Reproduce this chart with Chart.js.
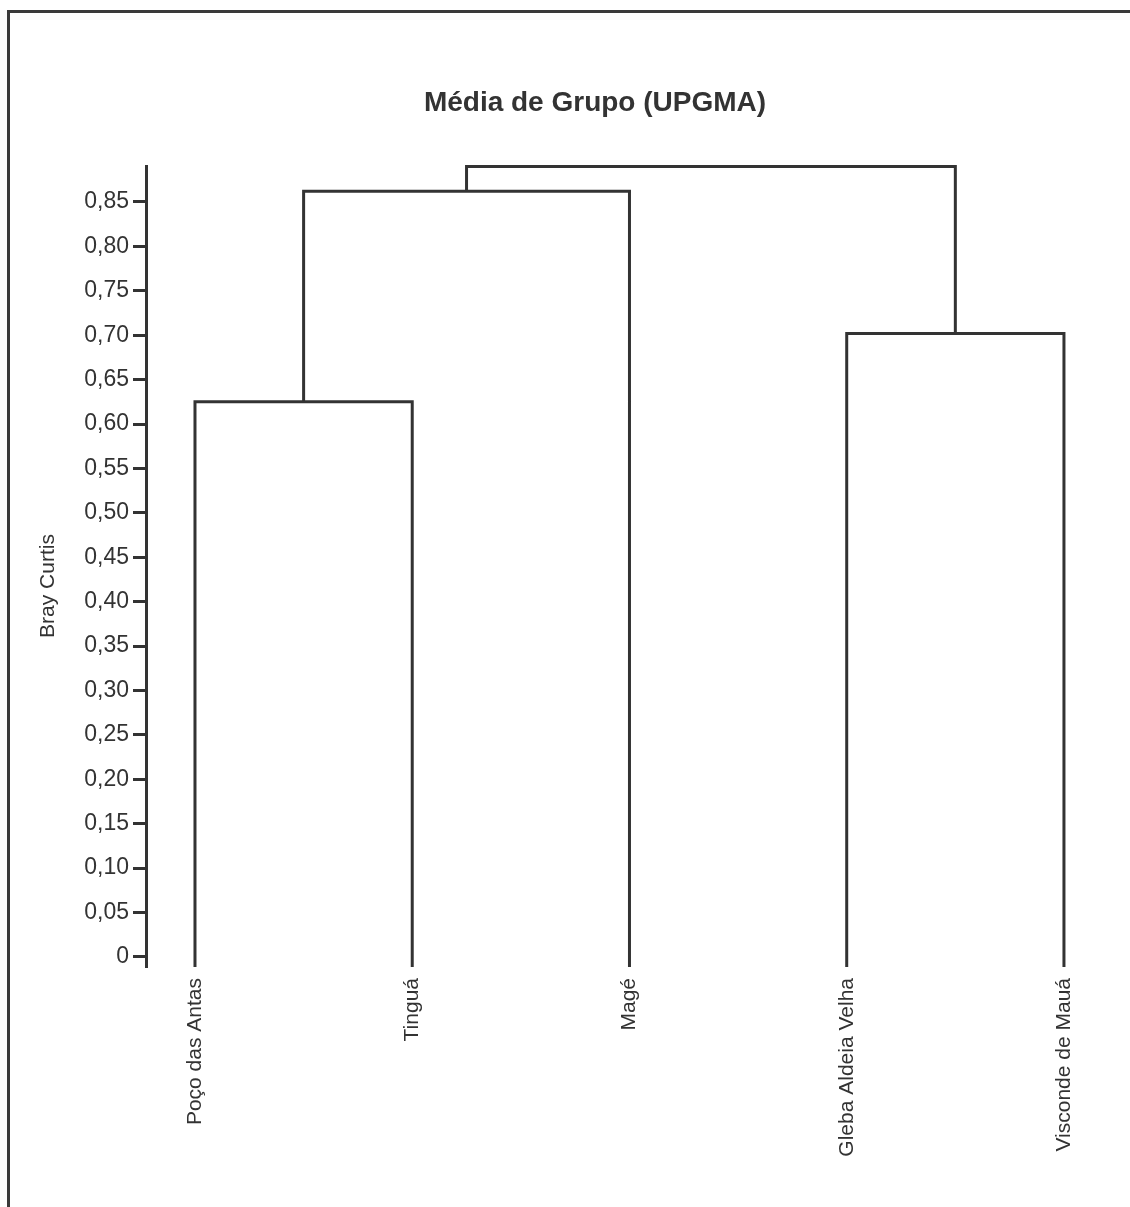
<!DOCTYPE html>
<html><head><meta charset="utf-8">
<script src="https://cdn.jsdelivr.net/npm/chart.js@4/dist/chart.umd.min.js"></script>
<style>
html,body{margin:0;padding:0;background:#fff;}
#wrap{position:relative;width:1130px;height:1207px;overflow:hidden;background:#fff;}
#frame{position:absolute;left:7px;top:10px;width:1300px;height:1400px;border-top:3px solid #3a3a3a;border-left:3px solid #3a3a3a;}
canvas{position:absolute;left:0;top:0;}
</style></head><body>
<div id="wrap"><div id="frame"></div><canvas id="c" width="1130" height="1207"></canvas></div>
<script>
const chartTitle = 'Média de Grupo (UPGMA)';
const yAxisTitle = 'Bray Curtis';
const leaves = ['Poço das Antas', 'Tinguá', 'Magé', 'Gleba Aldeia Velha', 'Visconde de Mauá'];
// merges in order; ids 0-4 are leaves, 5+ are merged clusters
const mergeLeft = [0, 3, 5, 7];
const mergeRight = [1, 4, 2, 6];
const mergeHeight = [0.625, 0.702, 0.862, 0.890];
const yTickValues = [0, 0.05, 0.10, 0.15, 0.20, 0.25, 0.30, 0.35, 0.40, 0.45, 0.50, 0.55, 0.60, 0.65, 0.70, 0.75, 0.80, 0.85];
const yTickLabels = ['0', '0,05', '0,10', '0,15', '0,20', '0,25', '0,30', '0,35', '0,40', '0,45', '0,50', '0,55', '0,60', '0,65', '0,70', '0,75', '0,80', '0,85'];

const Y_MIN = -0.0113, Y_MAX = 0.8905;
const X_MIN = -0.2255, X_MAX = 4.304;
const INK = '#333333';

// node positions
const nodeX = leaves.map((_, i) => i);
const nodeY = leaves.map(() => Y_MIN);
const datasets = [];
mergeLeft.forEach((l, k) => {
  const r = mergeRight[k], h = mergeHeight[k];
  datasets.push({
    data: [{x: nodeX[l], y: nodeY[l]}, {x: nodeX[l], y: h}, {x: nodeX[r], y: h}, {x: nodeX[r], y: nodeY[r]}],
    showLine: true, borderColor: INK, borderWidth: 3, pointRadius: 0, fill: false,
    borderJoinStyle: 'miter', borderCapStyle: 'butt', clip: false, tension: 0
  });
  nodeX.push((nodeX[l] + nodeX[r]) / 2);
  nodeY.push(h);
});

const yTitlePlugin = {
  id: 'yTitle',
  afterDraw(chart) {
    const ctx = chart.ctx;
    ctx.save();
    ctx.translate(48.5, 586);
    ctx.rotate(-Math.PI / 2);
    ctx.font = '21px "Liberation Sans", Arial, sans-serif';
    ctx.fillStyle = INK;
    ctx.textAlign = 'center';
    ctx.textBaseline = 'middle';
    ctx.fillText(yAxisTitle, 0, 0);
    ctx.restore();
  }
};

Chart.defaults.font.family = '"Liberation Sans", Arial, sans-serif';
Chart.defaults.color = INK;

new Chart(document.getElementById('c'), {
  type: 'scatter',
  data: { datasets },
  plugins: [yTitlePlugin],
  options: {
    responsive: false,
    animation: false,
    layout: { padding: { left: 60, right: 0, top: 0, bottom: 0 } },
    plugins: {
      legend: { display: false },
      tooltip: { enabled: false },
      title: {
        display: true, text: chartTitle, color: INK,
        font: { size: 28, weight: 'bold' },
        padding: { top: 86, bottom: 46.4 }
      }
    },
    scales: {
      x: {
        type: 'linear', min: X_MIN, max: X_MAX, bounds: 'data',
        afterBuildTicks(s) { s.ticks = leaves.map((_, i) => ({ value: i })); },
        afterFit(s) { s.height = 240; },
        grid: { display: false, drawTicks: false },
        border: { display: false },
        ticks: {
          autoSkip: false, minRotation: 90, maxRotation: 90, padding: 11,
          font: { size: 21 }, color: INK,
          callback: (v) => leaves[v]
        }
      },
      y: {
        type: 'linear', min: Y_MIN, max: Y_MAX, bounds: 'data',
        afterBuildTicks(s) { s.ticks = yTickValues.map(v => ({ value: v })); },
        afterFit(s) { s.width = 86; },
        grid: { display: true, drawOnChartArea: false, drawTicks: true, tickLength: 13, tickWidth: 3, tickColor: INK },
        border: { display: true, color: INK, width: 3 },
        ticks: {
          padding: 4, font: { size: 23 }, color: INK, autoSkip: false,
          callback: (v) => { const i = yTickValues.indexOf(v); return i >= 0 ? yTickLabels[i] : ''; }
        }
      }
    }
  }
});
</script>
</body></html>
